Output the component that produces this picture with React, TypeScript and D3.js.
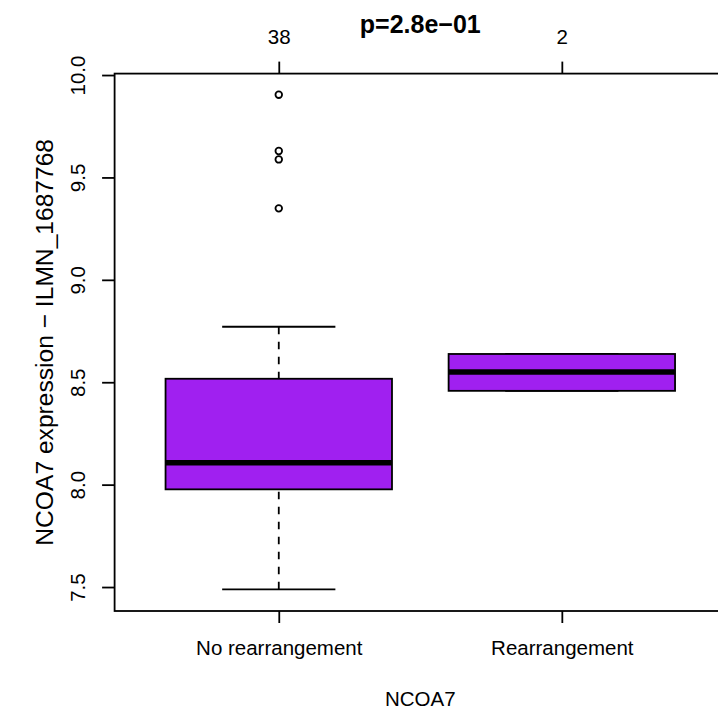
import React, { useEffect, useRef } from 'react';
import * as d3 from 'd3';

// values
const groups = ['No rearrangement', 'Rearrangement'];
const groupCounts = [38, 2];
const lowerWhisker = [7.489, 8.458];
const lowerQuartile = [7.977, 8.458];
const medians = [8.107, 8.55];
const upperQuartile = [8.517, 8.638];
const upperWhisker = [8.771, 8.638];
const outliers = [[9.904, 9.629, 9.588, 9.349], []];
const yTicks = [7.5, 8.0, 8.5, 9.0, 9.5, 10.0];

const title = 'p=2.8e\u221201';
const xTitle = 'NCOA7';
const yTitle = 'NCOA7 expression \u2212 ILMN_1687768';

const W = 718;
const H = 712;
const FONT = '"Liberation Sans", Arial, Helvetica, sans-serif';
const LWD = 1.8;
const BOX_COLOR = '#A020F0';

export default function App() {
  const anchor = useRef<SVGSVGElement | null>(null);

  useEffect(() => {
    const svg = d3.select(anchor.current);
    svg.selectAll('*').remove();

    const plot = { left: 114.6, right: 726, top: 73.6, bottom: 611 };

    const x = d3.scaleLinear().domain([0.42, 2.58]).range([plot.left, plot.right]);
    const y = d3.scaleLinear().domain([7.383, 10.007]).range([plot.bottom, plot.top]);
    const unit = x(2) - x(1);
    const boxW = unit * 0.8;
    const capW = boxW / 2;

    const data = groups.map((g, i) => ({
      name: g,
      pos: i + 1,
      lo: lowerWhisker[i],
      q1: lowerQuartile[i],
      med: medians[i],
      q3: upperQuartile[i],
      hi: upperWhisker[i],
      out: outliers[i]
    }));

    const g = svg.append('g');

    // whiskers (dashed)
    g.selectAll('line.whisk-lo')
      .data(data)
      .enter()
      .append('line')
      .attr('x1', d => x(d.pos))
      .attr('x2', d => x(d.pos))
      .attr('y1', d => y(d.lo))
      .attr('y2', d => y(d.q1))
      .attr('stroke', '#000')
      .attr('stroke-width', LWD)
      .attr('stroke-dasharray', '7.5,7.5');

    g.selectAll('line.whisk-hi')
      .data(data)
      .enter()
      .append('line')
      .attr('x1', d => x(d.pos))
      .attr('x2', d => x(d.pos))
      .attr('y1', d => y(d.hi))
      .attr('y2', d => y(d.q3))
      .attr('stroke', '#000')
      .attr('stroke-width', LWD)
      .attr('stroke-dasharray', '7.5,7.5');

    // whisker caps
    ['lo', 'hi'].forEach(k => {
      g.selectAll('line.cap-' + k)
        .data(data)
        .enter()
        .append('line')
        .attr('x1', d => x(d.pos) - capW / 2)
        .attr('x2', d => x(d.pos) + capW / 2)
        .attr('y1', (d: any) => y(d[k]))
        .attr('y2', (d: any) => y(d[k]))
        .attr('stroke', '#000')
        .attr('stroke-width', LWD);
    });

    // boxes
    g.selectAll('rect.box')
      .data(data)
      .enter()
      .append('rect')
      .attr('x', d => x(d.pos) - boxW / 2)
      .attr('width', boxW)
      .attr('y', d => y(d.q3))
      .attr('height', d => y(d.q1) - y(d.q3))
      .attr('fill', BOX_COLOR)
      .attr('stroke', '#000')
      .attr('stroke-width', LWD);

    // medians
    g.selectAll('line.med')
      .data(data)
      .enter()
      .append('line')
      .attr('x1', d => x(d.pos) - boxW / 2)
      .attr('x2', d => x(d.pos) + boxW / 2)
      .attr('y1', d => y(d.med))
      .attr('y2', d => y(d.med))
      .attr('stroke', '#000')
      .attr('stroke-width', LWD * 3);

    // outliers
    const pts = data.flatMap(d => d.out.map(v => ({ pos: d.pos, v })));
    g.selectAll('circle.out')
      .data(pts)
      .enter()
      .append('circle')
      .attr('cx', d => x(d.pos))
      .attr('cy', d => y(d.v))
      .attr('r', 3.3)
      .attr('fill', 'none')
      .attr('stroke', '#000')
      .attr('stroke-width', LWD);

    // frame
    svg
      .append('rect')
      .attr('x', plot.left)
      .attr('y', plot.top)
      .attr('width', plot.right - plot.left)
      .attr('height', plot.bottom - plot.top)
      .attr('fill', 'none')
      .attr('stroke', '#000')
      .attr('stroke-width', LWD);

    const styleAxis = (sel: any) => {
      sel.select('.domain').remove();
      sel.selectAll('line').attr('stroke', '#000').attr('stroke-width', LWD);
      sel
        .selectAll('text')
        .attr('fill', '#000')
        .style('font-family', FONT)
        .style('font-size', '20.5px');
    };

    // left axis
    const yAxis = svg
      .append('g')
      .attr('transform', `translate(${plot.left},0)`)
      .call(d3.axisLeft(y).tickValues(yTicks).tickSize(12.5).tickFormat(d3.format('.1f')));
    styleAxis(yAxis);
    yAxis
      .selectAll('text')
      .attr('x', null)
      .attr('dy', null)
      .attr('text-anchor', 'middle')
      .attr('transform', 'translate(-29.6,0) rotate(-90)');

    // bottom axis
    const xAxis = svg
      .append('g')
      .attr('transform', `translate(0,${plot.bottom})`)
      .call(
        d3
          .axisBottom(x)
          .tickValues([1, 2])
          .tickSize(12)
          .tickFormat((d: any) => groups[d - 1])
      );
    styleAxis(xAxis);
    xAxis.selectAll('text').attr('y', 44).attr('dy', null);

    // top axis with group sizes
    const topAxis = svg
      .append('g')
      .attr('transform', `translate(0,${plot.top})`)
      .call(
        d3
          .axisTop(x)
          .tickValues([1, 2])
          .tickSize(12)
          .tickFormat((d: any) => String(groupCounts[d - 1]))
      );
    styleAxis(topAxis);
    topAxis.selectAll('text').attr('y', -29.6).attr('dy', null);

    const midX = (plot.left + plot.right) / 2;

    svg
      .append('text')
      .attr('x', midX)
      .attr('y', 33)
      .attr('text-anchor', 'middle')
      .style('font-family', FONT)
      .style('font-size', '25px')
      .style('font-weight', 'bold')
      .text(title);

    svg
      .append('text')
      .attr('x', midX)
      .attr('y', 705.7)
      .attr('text-anchor', 'middle')
      .style('font-family', FONT)
      .style('font-size', '20.5px')
      .text(xTitle);

    svg
      .append('text')
      .attr('transform', `translate(53,${(plot.top + plot.bottom) / 2}) rotate(-90)`)
      .attr('text-anchor', 'middle')
      .style('font-family', FONT)
      .style('font-size', '24.6px')
      .text(yTitle);
  }, []);

  return (
    <svg
      ref={anchor}
      width={W}
      height={H}
      style={{ position: 'absolute', left: 0, top: 0, background: '#fff' }}
    />
  );
}
